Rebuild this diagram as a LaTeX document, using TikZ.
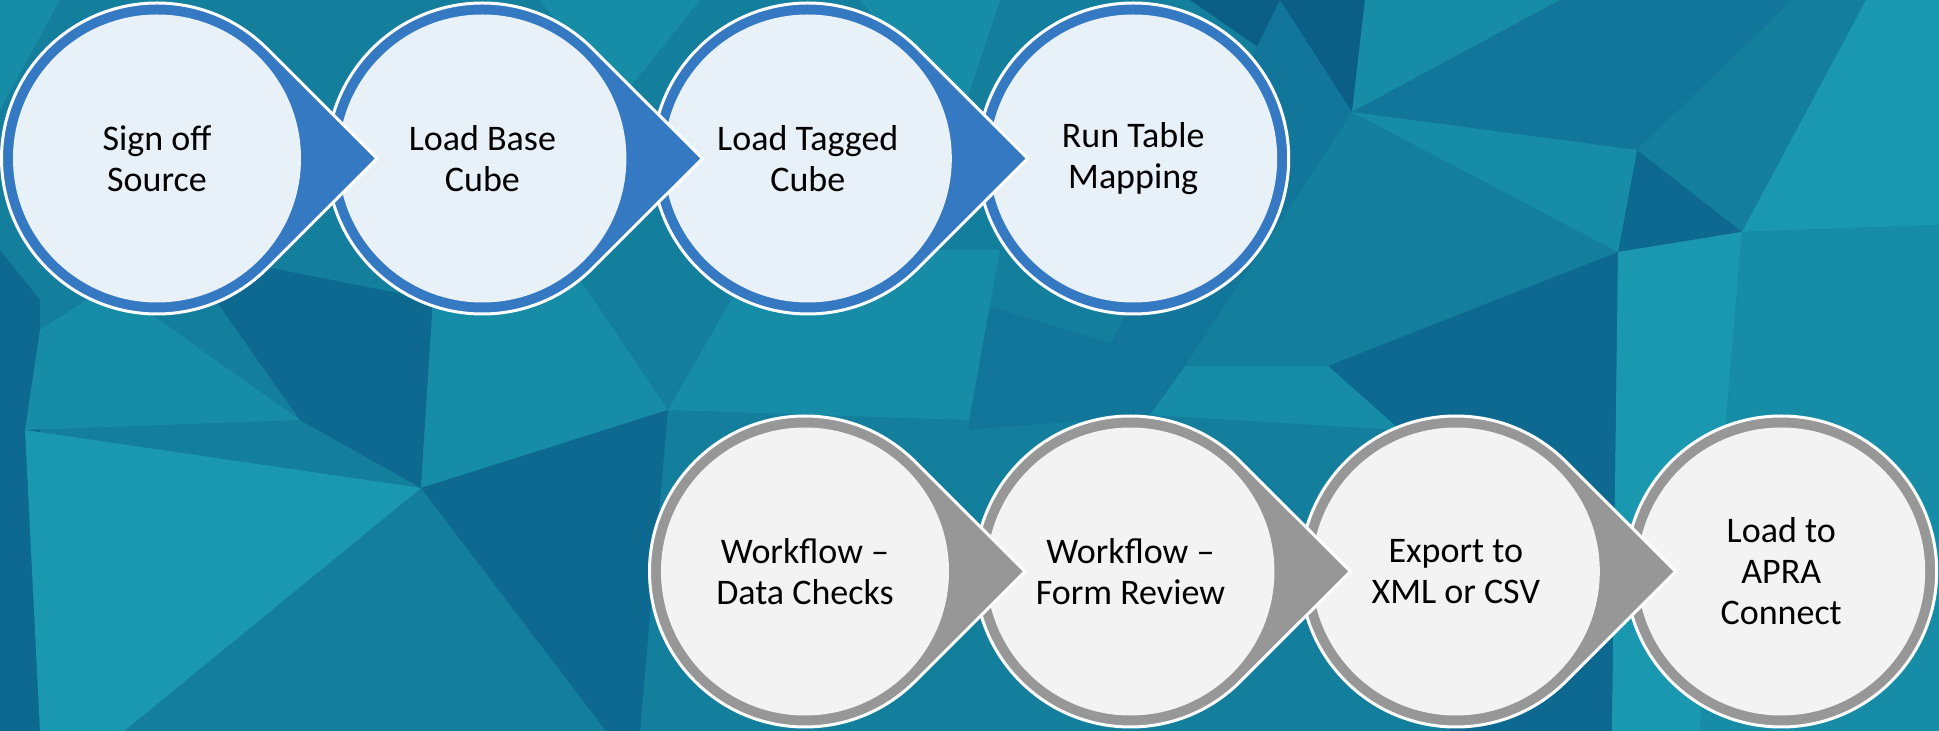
\documentclass[tikz,border=0pt]{standalone}
\usepackage{fontspec}
\setmainfont{Carlito}
\usetikzlibrary{positioning,calc}

\definecolor{ringblue}{HTML}{3579C2}
\definecolor{paleblue}{HTML}{E8F0F8}
\definecolor{ringgrey}{HTML}{979797}
\definecolor{palegrey}{HTML}{F3F3F3}
\definecolor{bgbase}{HTML}{147F9D}
\definecolor{bgdark}{HTML}{0E6990}
\definecolor{bgdeep}{HTML}{0B5E86}
\definecolor{bgmid}{HTML}{117699}
\definecolor{bglight}{HTML}{168CA7}
\definecolor{bgpale}{HTML}{1A98B0}

\pgfdeclarelayer{back}
\pgfdeclarelayer{discs}
\pgfsetlayers{back,discs,main}

\tikzset{
  stepnode/.style={circle, minimum size=288pt, inner sep=0pt, align=center,
    font=\fontsize{36}{41}\selectfont},
  bluedrop/.style={fill=ringblue, draw=white, line width=3pt},
  bluecore/.style={fill=paleblue},
  greydrop/.style={fill=ringgrey, draw=white, line width=3pt},
  greycore/.style={fill=palegrey},
}

% teardrop of #1 pointing at #2, in colour #3
\newcommand{\dropshape}[3]{%
  \draw[#3drop] ($(#1)!220pt!(#2)$) -- ($(#1)+(45:155.5pt)$)
    arc[start angle=45, end angle=315, radius=155.5pt] -- cycle;
  \fill[#3core] (#1) circle[radius=144pt];
}

\begin{document}
\begin{tikzpicture}[x=1pt, y=1pt]
\useasboundingbox (0,0) rectangle (1939,731);

\node[stepnode] (s1) at (157,572.5) {Sign off\\Source};
\node[stepnode, right=37pt of s1] (s2) {Load Base\\Cube};
\node[stepnode, right=37pt of s2] (s3) {Load Tagged\\Cube};
\node[stepnode, right=37pt of s3] (s4) {Run Table\\Mapping};

\node[stepnode] (b1) at (805,159.5) {Workflow –\\Data Checks};
\node[stepnode, right=37pt of b1] (b2) {Workflow –\\Form Review};
\node[stepnode, right=37pt of b2] (b3) {Export to\\XML or CSV};
\node[stepnode, right=37pt of b3] (b4) {Load to\\APRA\\Connect};

\begin{pgfonlayer}{discs}
\draw[bluedrop] (s4) circle[radius=155.5pt];
\fill[bluecore] (s4) circle[radius=144pt];
\foreach \a/\b in {s3/s4, s2/s3, s1/s2}
  \dropshape{\a}{\b}{blue};
\draw[greydrop] (b4) circle[radius=155.5pt];
\fill[greycore] (b4) circle[radius=144pt];
\foreach \a/\b in {b3/b4, b2/b3, b1/b2}
  \dropshape{\a}{\b}{grey};
\end{pgfonlayer}

% low-poly backdrop, image coordinates
\begin{pgfonlayer}{back}
\begin{scope}[shift={(0,731)}, yscale=-1]
\fill[bgbase] (0,0) rectangle (1939,731);
% right half
\fill[bgdeep] (1190,0) -- (1365,0) -- (1352,112) -- cycle;
\fill[bgmid] (1280,0) -- (1352,112) -- (1185,366) -- (1100,366) -- cycle;
\fill[bglight] (1365,0) -- (1560,0) -- (1352,112) -- cycle;
\fill[bgmid] (1560,0) -- (1792,0) -- (1637,150) -- (1352,112) -- cycle;
\fill[bgbase] (1792,0) -- (1866,0) -- (1742,232) -- (1637,150) -- cycle;
\fill[bgdark] (1637,150) -- (1742,232) -- (1618,252) -- cycle;
\fill[bgpale] (1866,0) -- (1939,0) -- (1939,225) -- (1742,232) -- cycle;
\fill[bglight] (1352,112) -- (1637,150) -- (1618,252) -- cycle;
\fill[bgdark] (1618,252) -- (1328,366) -- (1400,430) -- (1450,731) -- (1612,731) -- cycle;
\fill[bgpale] (1618,252) -- (1742,232) -- (1700,731) -- (1612,731) -- cycle;
\fill[bglight] (1742,232) -- (1939,225) -- (1939,731) -- (1700,731) -- cycle;
\fill[bgmid] (969,300) -- (1185,366) -- (1150,415) -- (969,430) -- cycle;
\fill[bglight] (1185,366) -- (1328,366) -- (1400,430) -- (1150,415) -- cycle;
% left half
\fill[bglight] (0,0) -- (60,0) -- (0,110) -- cycle;
\fill[bglight] (540,0) -- (700,0) -- (620,100) -- cycle;
\fill[bglight] (860,0) -- (1000,0) -- (960,120) -- cycle;
\fill[bgdark] (0,250) -- (40,300) -- (40,731) -- (0,731) -- cycle;
\fill[bglight] (110,285) -- (300,420) -- (25,430) -- (40,330) -- cycle;
\fill[bgdark] (180,250) -- (433,300) -- (421,488) -- (300,420) -- cycle;
\fill[bgpale] (25,430) -- (421,488) -- (124,731) -- (40,731) -- cycle;
\fill[bglight] (433,300) -- (560,250) -- (668,410) -- (421,488) -- cycle;
\fill[bgdark] (421,488) -- (668,410) -- (640,731) -- (606,731) -- cycle;
\fill[bglight] (760,250) -- (1000,250) -- (969,420) -- (668,410) -- cycle;
\end{scope}
\end{pgfonlayer}
\end{tikzpicture}
\end{document}
